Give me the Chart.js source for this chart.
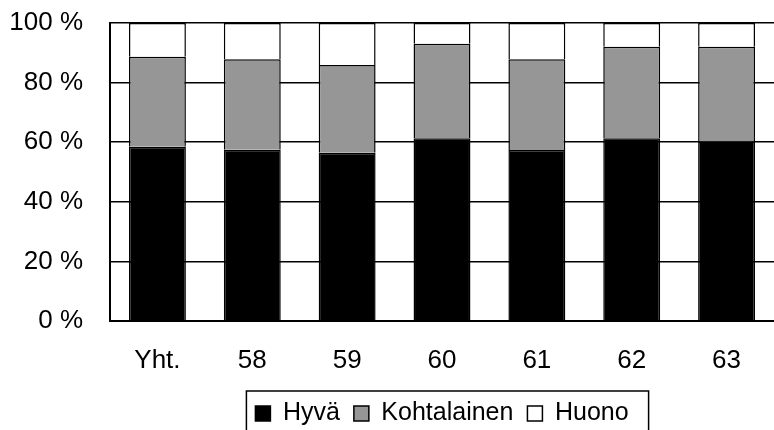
<!DOCTYPE html>
<html>
<head>
<meta charset="utf-8">
<script src="https://cdn.jsdelivr.net/npm/chart.js@4"></script>
<style>
  html, body { margin: 0; padding: 0; background: #fff; }
  #wrap { width: 774px; height: 430px; }
</style>
</head>
<body>
<div id="wrap"><canvas id="chart" width="774" height="430"></canvas></div>
<script>
const categories = ['Yht.', '58', '59', '60', '61', '62', '63'];
const hyva = [58.5, 57.5, 56.5, 61.3, 57.4, 61.3, 60.2];
const kohtalainen = [30.2, 30.3, 29.4, 31.7, 30.4, 30.7, 31.8];
const huono = [11.3, 12.2, 14.1, 7.0, 12.2, 8.0, 8.0];

// draws a frame round the legend, like the original
const legendFrame = {
  id: 'legendFrame',
  afterDraw(chart) {
    const lg = chart.legend;
    const items = lg.legendHitBoxes;
    if (!items || !items.length) return;
    const first = items[0], last = items[items.length - 1];
    const ctx = chart.ctx;
    ctx.save();
    ctx.strokeStyle = '#000';
    ctx.lineWidth = 1.5;
    const x0 = first.left - 9;
    const x1 = last.left + last.width + 20;
    ctx.strokeRect(x0, 391, x1 - x0, 80);
    ctx.restore();
  }
};

const tickFont = { family: 'Liberation Sans, Arial, sans-serif', size: 26 };
const legendFont = { family: 'Liberation Sans, Arial, sans-serif', size: 25 };

new Chart(document.getElementById('chart'), {
  type: 'bar',
  data: {
    labels: categories,
    datasets: [
      { label: 'Hyvä', data: hyva, backgroundColor: '#000000', borderColor: '#000', borderWidth: 1.5 },
      { label: 'Kohtalainen', data: kohtalainen, backgroundColor: '#969696', borderColor: '#000', borderWidth: 1.5 },
      { label: 'Huono', data: huono, backgroundColor: '#ffffff', borderColor: '#000', borderWidth: 1.5 }
    ]
  },
  options: {
    responsive: false,
    animation: false,
    layout: { padding: { left: 0, right: 0, top: 23, bottom: -6 } },
    datasets: { bar: { categoryPercentage: 1, barPercentage: 0.6 } },
    scales: {
      x: {
        stacked: true,
        grid: { display: false, drawTicks: false },
        border: { display: true, color: '#000', width: 2 },
        ticks: { color: '#000', font: tickFont, padding: 24 },
        afterFit(scale) { scale.height = 66; }
      },
      y: {
        stacked: true,
        min: 0,
        max: 100,
        ticks: { stepSize: 20, color: '#000', font: tickFont, padding: 27, callback: v => v + ' %' },
        grid: { color: '#000', lineWidth: 1.5, drawTicks: false },
        border: { display: true, color: '#000', width: 2 },
        afterFit(scale) {
          scale.width = 110;
          scale.paddingTop = 0;
          scale.paddingBottom = 0;
        }
      }
    },
    plugins: {
      legend: {
        position: 'bottom',
        fullSize: false,
        labels: {
          color: '#000',
          font: legendFont,
          boxWidth: 15,
          boxHeight: 15,
          padding: 14,
          generateLabels(chart) {
            return chart.data.datasets.map((ds, i) => ({
              text: ds.label,
              fillStyle: ds.backgroundColor,
              strokeStyle: '#000',
              lineWidth: 1.5,
              datasetIndex: i,
              fontColor: '#000'
            }));
          }
        }
      },
      tooltip: { enabled: false }
    }
  },
  plugins: [legendFrame]
});
</script>
</body>
</html>
